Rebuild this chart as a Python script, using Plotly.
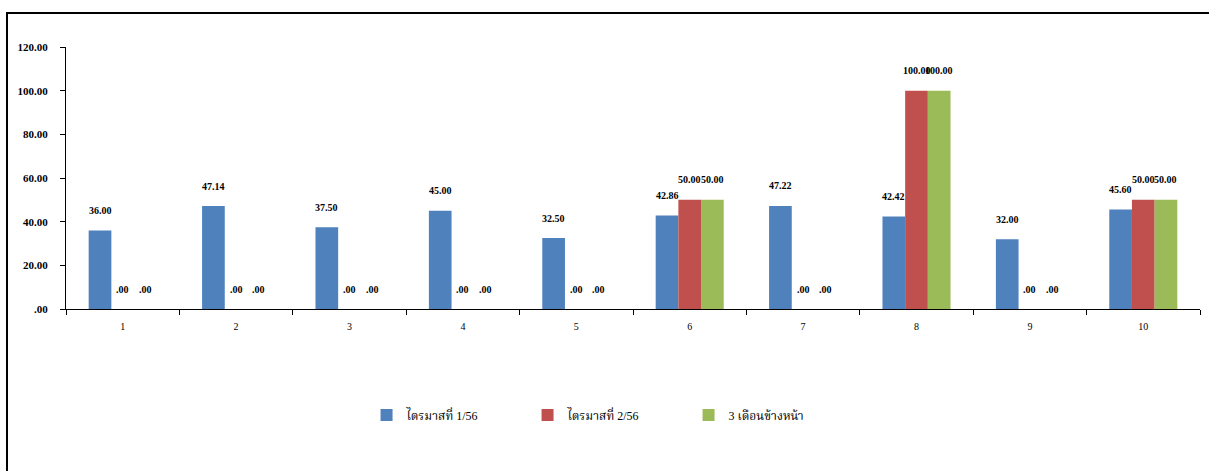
import plotly.graph_objects as go

categories = ["1", "2", "3", "4", "5", "6", "7", "8", "9", "10"]
series_names = ["ไตรมาสที่ 1/56", "ไตรมาสที่ 2/56", "3 เดือนข้างหน้า"]
q1 = [36.00, 47.14, 37.50, 45.00, 32.50, 42.86, 47.22, 42.42, 32.00, 45.60]
q2 = [0, 0, 0, 0, 0, 50.00, 0, 100.00, 0, 50.00]
next3 = [0, 0, 0, 0, 0, 50.00, 0, 100.00, 0, 50.00]
y_ticks = [0, 20, 40, 60, 80, 100, 120]
colors = ["#4F81BD", "#C0504D", "#9BBB59"]

def fmt(v):
    s = f"{v:.2f}"
    if s.startswith("0."):
        s = s[1:]
    return s

FONT = "Liberation Serif, Times New Roman, Noto Serif Thai, serif"
series = [q1, q2, next3]

fig = go.Figure()
for name, vals, col in zip(series_names, series, colors):
    fig.add_trace(go.Bar(x=categories, y=vals, name=name, marker=dict(color=col, line=dict(width=0))))

bargap = 0.4
w = (1 - bargap) / 3
annotations = []
for k, vals in enumerate(series):
    off = (k - 1) * w
    for i, v in enumerate(vals):
        annotations.append(dict(x=i + off, y=v, xref="x", yref="y", text="<b>" + fmt(v) + "</b>",
                                showarrow=False, yshift=20, font=dict(family=FONT, size=10, color="black")))

W, H = 1209, 471
L, R, T, B = 66, 1200, 47, 309
fig.update_layout(
    width=W, height=H,
    margin=dict(l=L, r=W - R, t=T, b=H - B, autoexpand=False),
    paper_bgcolor="white", plot_bgcolor="white",
    barmode="group", bargap=bargap, bargroupgap=0,
    font=dict(family=FONT, color="black"),
    annotations=annotations,
    showlegend=True,
    legend=dict(orientation="h", x=0.478, xanchor="center", y=-(415 - B) / (B - T), yanchor="middle",
                font=dict(family=FONT, size=12, color="black"), entrywidth=116, itemwidth=30,
                traceorder="normal"),
    shapes=[dict(type="rect", xref="paper", yref="paper",
                 x0=(7 - L) / (R - L), x1=1.1, y0=-1.0, y1=(B - 13) / (B - T),
                 line=dict(color="black", width=2), fillcolor="rgba(0,0,0,0)", layer="below")],
)
fig.update_xaxes(type="category", tickson="boundaries", ticks="outside", ticklen=5, tickcolor="black",
                 showline=True, linecolor="black", linewidth=1, showgrid=False, ticklabelstandoff=8,
                 tickfont=dict(family=FONT, size=10, color="black"))
fig.update_yaxes(range=[0, 120], tickvals=y_ticks, ticktext=["<b>" + fmt(v) + "</b>" for v in y_ticks],
                 ticks="outside", ticklen=5, tickcolor="black", showline=True, linecolor="black",
                 linewidth=1, showgrid=False, zeroline=False, ticklabelstandoff=10,
                 tickfont=dict(family=FONT, size=11, color="black"))

fig.write_html("out.html", config={"displayModeBar": False},
               post_script="document.body.style.margin='0';document.body.style.overflow='hidden';")
